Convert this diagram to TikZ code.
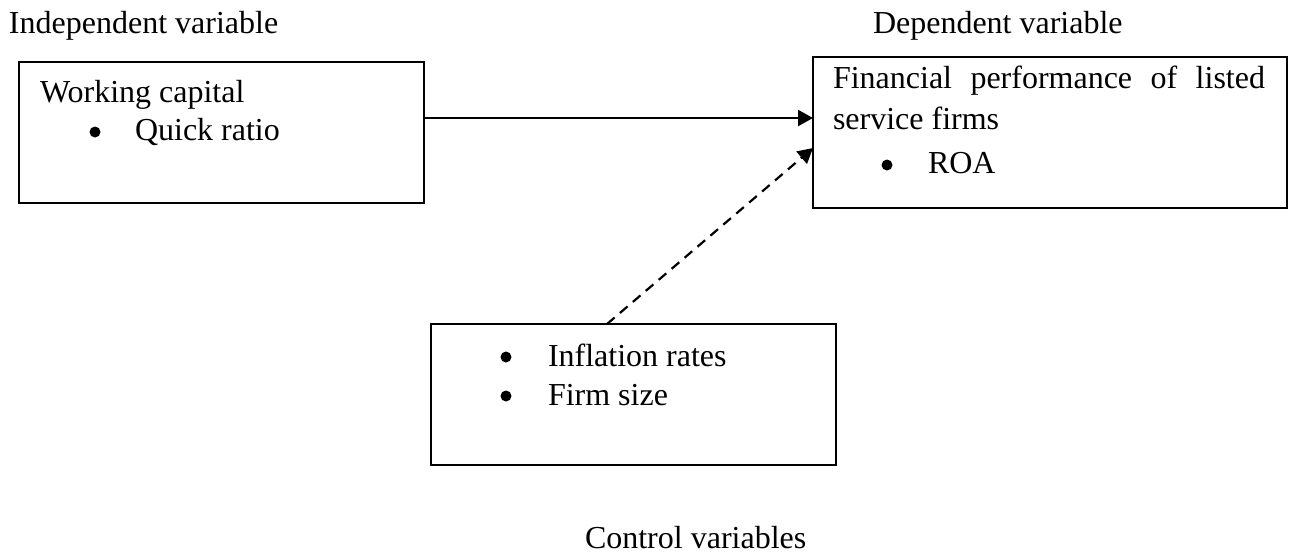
\documentclass[tikz,border=0pt]{standalone}
\usepackage{fontspec}
\setmainfont{Liberation Serif}
\usetikzlibrary{arrows.meta}
\begin{document}
\begin{tikzpicture}[x=0.5pt,y=-0.5pt,
  every node/.style={inner sep=0pt,outer sep=0pt,anchor=base west,font=\fontsize{16}{19}\selectfont},
  box/.style={draw,line width=1pt},
  bul/.style={circle,fill=black,minimum size=5.5pt,anchor=center},
  conn/.style={line width=1.1pt,-{Triangle[length=7.5pt,width=8pt]}}]
\useasboundingbox (0,0) rectangle (1292,554);
% boxes
\draw[box] (19,62) rectangle (424,203);
\draw[box] (813,57) rectangle (1287,208);
\draw[box] (431,324) rectangle (836,465);
\coordinate (b1r) at (424,118);
\coordinate (b2a) at (813,118);
\coordinate (b2b) at (813,148);
\coordinate (b3t) at (607,324);
% headings
\node (indep) at (9,33) {Independent variable};
\node (dep) at (873,33) {Dependent variable};
\node (ctrl) at (585,548) {Control variables};
% box 1
\node (wc) at (40,102) {Working capital};
\node[bul] (bq) at (95,132) {};
\node (qr) at (135,140) {Quick ratio};
% box 2
\node (fp1) at (833,88) {\makebox[216pt][s]{Financial\hfill performance\hfill of\hfill listed}};
\node (fp2) at (833,129) {service firms};
\node[bul] (br) at (887,165) {};
\node (roa) at (928,173) {ROA};
% box 3
\node[bul] (bi) at (506,357) {};
\node (inf) at (548,366) {Inflation rates};
\node[bul] (bf) at (506,396) {};
\node (fs) at (548,405) {Firm size};
% connectors
\draw[conn] (b1r) -- (b2a);
\draw[conn,dash pattern=on 5pt off 3.5pt] (b3t) -- (b2b);
\end{tikzpicture}
\end{document}
